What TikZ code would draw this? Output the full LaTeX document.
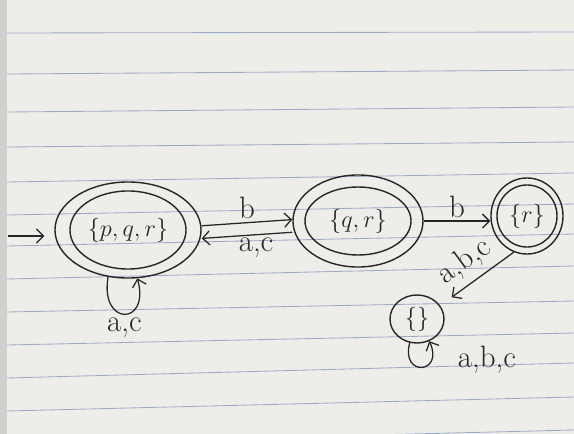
\documentclass[tikz,border=0pt]{standalone}
\usepackage{xcolor}
\usepackage{tikz}
\usetikzlibrary{shapes.geometric, arrows.meta, positioning}
\definecolor{myink}{RGB}{38,38,40}
\definecolor{mypaper}{RGB}{237,237,234}
\definecolor{myrule}{RGB}{158,170,200}
\definecolor{myedge}{RGB}{208,208,205}
\tikzset{
  outerstate/.style={ellipse, draw=myink, line width=1pt, inner sep=0pt},
  innerstate/.style={ellipse, draw=myink, line width=1pt, inner sep=-3pt,
    text=myink, font=\fontsize{19}{21}\selectfont},
  trans/.style={-{Straight Barb[length=5pt,width=10pt]}, line width=0.9pt, color=myink},
  lbl/.style={font=\fontsize{22}{24}\selectfont, text=myink, inner sep=2pt},
  ruled/.style={myrule, line width=0.6pt}
}

\begin{document}
\begin{tikzpicture}[x=0.025cm, y=-0.025cm]
  % paper
  \useasboundingbox (0,0) rectangle (574,434);
  \fill[mypaper] (0,0) rectangle (574,434);
  \fill[myedge] (0,0) rectangle (7,434);
  \begin{scope}
    \clip (0,0) rectangle (574,434);
    \foreach \yl/\yr in {33/32, 74/70, 112/107, 147/142, 182/173, 215/204,
                         246/234, 279/266, 312/301, 345/333, 378/363, 411/397, 444/430}
      \draw[ruled] (7,\yl) -- (574,\yr);
  \end{scope}

  % states
  \node[outerstate, minimum width=3.65cm, minimum height=2.4cm] (pqr) at (128,230) {};
  \node[innerstate, minimum width=2.9cm, minimum height=1.95cm] (pqrin) at (pqr) {$\{p,q,r\}$};
  \node[outerstate, minimum width=3.25cm, minimum height=2.3cm] (qr) at (358,221) {};
  \node[innerstate, minimum width=2.65cm, minimum height=1.7cm] (qrin) at (qr) {$\{q,r\}$};
  \node[outerstate, minimum width=1.8cm, minimum height=1.9cm] (r) at (527,216) {};
  \node[innerstate, minimum width=1.5cm, minimum height=1.55cm] (rin) at (r) {$\{r\}$};
  \node[innerstate, minimum width=1.35cm, minimum height=1.2cm] (empty) at (417,319) {$\{\}$};

  % start
  \coordinate (start) at (8,236);
  \draw[trans, shorten >=7pt] (start) -- (start -| pqr.west);

  % transitions
  \draw[trans] ([yshift=3pt]pqr.east) -- ([yshift=1pt]qr.west)
    node[lbl, midway, above] (lb1) {b};
  \draw[trans] ([yshift=-8pt]qr.west) -- ([yshift=-6pt]pqr.east)
    node[lbl, pos=0.4, below] (lac1) {a,c};
  \draw[trans] (qr.east) -- (qr.east -| r.west)
    node[lbl, midway, above] (lb2) {b};
  \draw[trans, shorten >=10pt] (r.250) -- (empty.30)
    node[lbl, midway, sloped, above=3pt] (labc1) {a,b,c};

  % loops
  \draw[trans] (pqr.247) .. controls +(-100:1.25cm) and +(-75:1.25cm) .. (pqr.281)
    node[lbl, pos=0.5, below] (lac2) {a,c};
  \draw[trans] (empty.253) .. controls +(-105:0.9cm) and +(-65:0.9cm) .. (empty.299);
  \node[lbl] (labc2) at (487,360) {a,b,c};
\end{tikzpicture}
\end{document}
